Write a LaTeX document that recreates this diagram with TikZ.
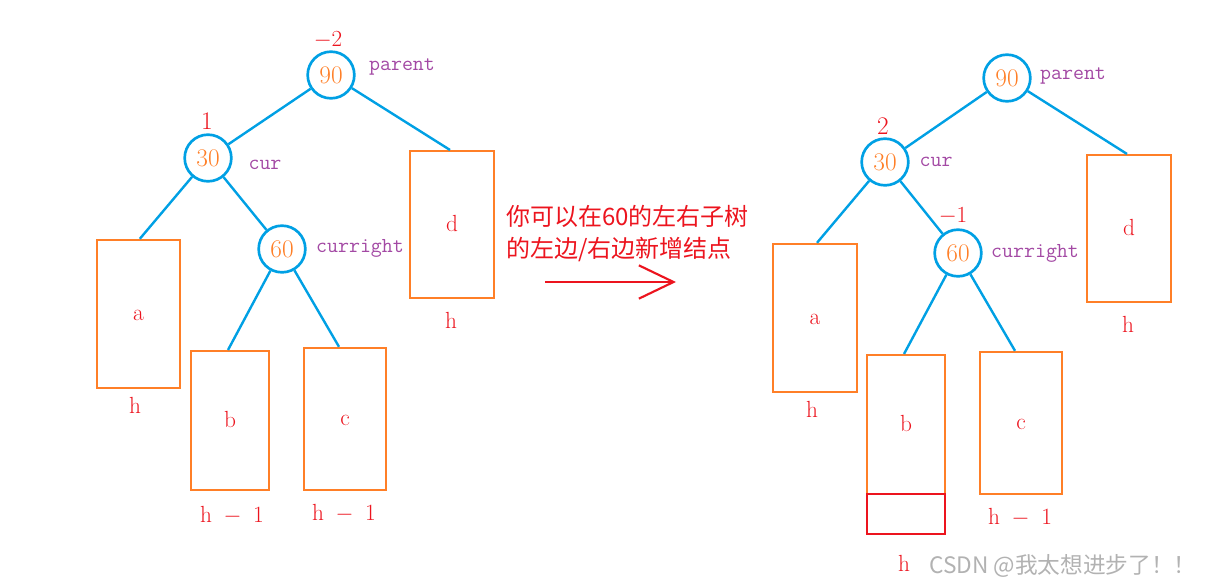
\documentclass[tikz,border=0pt]{standalone}
\usepackage{fontspec}
\newfontfamily\cjk{Noto Sans CJK SC}
\usetikzlibrary{arrows.meta,positioning}
\definecolor{treeblue}{RGB}{0,160,228}
\definecolor{suborange}{RGB}{255,127,39}
\definecolor{bfred}{RGB}{236,20,30}
\definecolor{ptrpurple}{RGB}{163,73,164}

\begin{document}
\begin{tikzpicture}[
  x=0.75pt, y=-0.75pt,
  key/.style={circle, draw=treeblue, line width=2pt, minimum size=35pt,
              inner sep=0pt, text=suborange, font=\fontsize{19}{19}\selectfont},
  sub/.style={draw=suborange, line width=1.8pt, text=bfred, inner sep=0pt,
              text height=1em, text depth=0pt,
              font=\fontsize{17.5}{17.5}\selectfont},
  added/.style={draw=bfred, line width=1.8pt, inner sep=0pt},
  edge/.style={draw=treeblue, line width=1.8pt},
  bf/.style={text=bfred, inner sep=0pt, font=\fontsize{19}{19}\selectfont},
  ptr/.style={text=ptrpurple, inner sep=0pt, font=\ttfamily\fontsize{16}{16}\selectfont},
  hlab/.style={text=bfred, inner sep=0pt, font=\fontsize{17.5}{17.5}\selectfont},
  note/.style={text=bfred, align=left, inner sep=0pt, anchor=west,
               font=\cjk\fontsize{18}{24}\selectfont},
  arr/.style={draw=bfred, line width=1.6pt, -{Straight Barb[length=26pt,width=25pt]}}
]
\useasboundingbox (0,0) rectangle (1212,585);

% before inserting
\node[key] (l90) at (331,75) {90};
\node[key] (l30) at (208,158) {30};
\node[key] (l60) at (282,249) {60};
\node[sub, minimum width=62pt, minimum height=111pt] (la) at (138.5,314) {a};
\node[sub, minimum width=58.5pt, minimum height=104pt] (lb) at (230,420.5) {b};
\node[sub, minimum width=61.5pt, minimum height=106.5pt] (lc) at (345,419) {c};
\node[sub, minimum width=63pt, minimum height=110pt] (ld) at (452,224.5) {d};
\draw[edge] (l90) -- (l30);
\draw[edge] (l90) -- ([xshift=-1.5pt]ld.north);
\draw[edge] (l30) -- ([xshift=1pt]la.north);
\draw[edge] (l30) -- (l60);
\draw[edge] (l60) -- ([xshift=-1.5pt]lb.north);
\draw[edge] (l60) -- ([xshift=-4.5pt]lc.north);
\node[bf] (lbf90) at (328,40) {$-2$};
\node[bf] (lbf30) at (207,121) {1};
\node[ptr] (lpar) at (402,67) {parent};
\node[ptr] (lcur) at (265,165) {cur};
\node[ptr] (lcr) at (360,248) {curright};
\node[hlab] (lha) at (135,405) {h};
\node[hlab] (lhb) at (232,515) {h\enspace$-$\enspace1};
\node[hlab] (lhc) at (344,513) {h\enspace$-$\enspace1};
\node[hlab] (lhd) at (451,320) {h};

% middle note
\node[note] (msg) at (506,234) {你可以在60的左右子树\\的左边/右边新增结点};
\coordinate (arrs) at (545,282);
\coordinate (arre) at (676,282);
\draw[arr] (arrs) -- (arre);

% after inserting
\node[key] (r90) at (1007,78) {90};
\node[key] (r30) at (885,162) {30};
\node[key] (r60) at (958,253) {60};
\node[sub, minimum width=63pt, minimum height=111pt] (ra) at (815,318) {a};
\node[sub, minimum width=58.5pt, minimum height=104pt] (rb) at (906,424.5) {b};
\node[added, minimum width=58.5pt, minimum height=30pt] (rnew) at (906,514) {};
\node[sub, minimum width=61.5pt, minimum height=106.5pt] (rc) at (1021,423) {c};
\node[sub, minimum width=63pt, minimum height=110pt] (rd) at (1129,228.5) {d};
\draw[edge] (r90) -- (r30);
\draw[edge] (r90) -- ([xshift=-1.5pt]rd.north);
\draw[edge] (r30) -- ([xshift=1.5pt]ra.north);
\draw[edge] (r30) -- (r60);
\draw[edge] (r60) -- ([xshift=-1.5pt]rb.north);
\draw[edge] (r60) -- ([xshift=-4.5pt]rc.north);
\node[bf] (rbf30) at (883,126) {2};
\node[bf] (rbf60) at (953,216) {$-1$};
\node[ptr] (rpar) at (1073,76) {parent};
\node[ptr] (rcur) at (936,162) {cur};
\node[ptr] (rcr) at (1035,253) {curright};
\node[hlab] (rha) at (812,409) {h};
\node[hlab] (rhb) at (904,563) {h};
\node[hlab] (rhc) at (1020,517) {h\enspace$-$\enspace1};
\node[hlab] (rhd) at (1128,324) {h};

\node[anchor=west, inner sep=0pt, text=black!30, font=\cjk\fontsize{17}{17}\selectfont]
  (mark) at (929,566) {CSDN @我太想进步了！！};
\end{tikzpicture}
\end{document}
